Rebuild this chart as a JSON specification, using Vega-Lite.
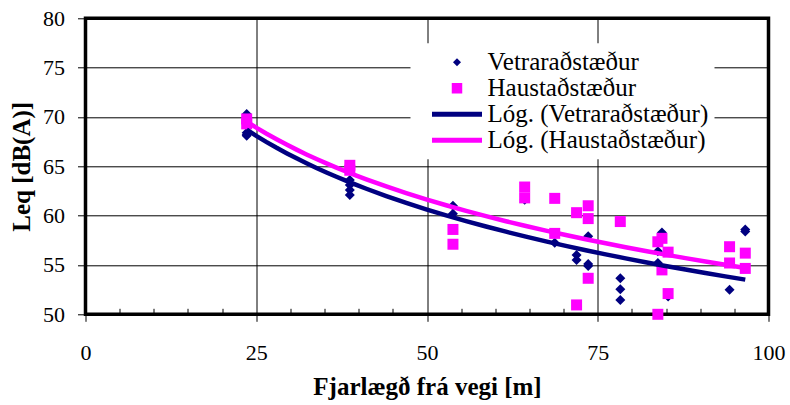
{
  "$schema": "https://vega.github.io/schema/vega-lite/v6.json",
  "autosize": {"type": "none"},
  "width": 683,
  "height": 296,
  "padding": {"left": 85.5, "top": 18.3, "right": 21.5, "bottom": 90.7},
  "background": "white",
  "config": {
    "view": {"stroke": "black", "strokeWidth": 3.5},
    "font": "Liberation Serif",
    "axis": {
      "labelFont": "Liberation Serif",
      "titleFont": "Liberation Serif",
      "labelColor": "black",
      "titleColor": "black",
      "labelFontSize": 22,
      "titleFontSize": 25,
      "titleFontWeight": "bold",
      "gridColor": "black",
      "gridWidth": 1,
      "gridOpacity": 1,
      "tickColor": "black",
      "tickWidth": 1,
      "domain": false,
      "labelOverlap": false,
      "labelFlush": false
    },
    "legend": {"labelFont": "Liberation Serif"}
  },
  "data": {
    "values": [
      {"d": 23.6, "leq": 70.3, "s": "Vetraraðstæður"},
      {"d": 23.6, "leq": 70.0, "s": "Vetraraðstæður"},
      {"d": 23.6, "leq": 69.4, "s": "Vetraraðstæður"},
      {"d": 23.6, "leq": 68.4, "s": "Vetraraðstæður"},
      {"d": 23.6, "leq": 68.2, "s": "Vetraraðstæður"},
      {"d": 23.6, "leq": 68.1, "s": "Vetraraðstæður"},
      {"d": 38.7, "leq": 63.6, "s": "Vetraraðstæður"},
      {"d": 38.7, "leq": 63.1, "s": "Vetraraðstæður"},
      {"d": 38.7, "leq": 62.6, "s": "Vetraraðstæður"},
      {"d": 38.7, "leq": 62.1, "s": "Vetraraðstæður"},
      {"d": 53.8, "leq": 61.0, "s": "Vetraraðstæður"},
      {"d": 53.8, "leq": 60.2, "s": "Vetraraðstæður"},
      {"d": 64.3, "leq": 61.6, "s": "Vetraraðstæður"},
      {"d": 68.7, "leq": 57.25, "s": "Vetraraðstæður"},
      {"d": 71.9, "leq": 56.0, "s": "Vetraraðstæður"},
      {"d": 71.9, "leq": 55.5, "s": "Vetraraðstæður"},
      {"d": 73.6, "leq": 57.9, "s": "Vetraraðstæður"},
      {"d": 73.6, "leq": 55.1, "s": "Vetraraðstæður"},
      {"d": 73.6, "leq": 54.9, "s": "Vetraraðstæður"},
      {"d": 73.6, "leq": 53.65, "s": "Vetraraðstæður"},
      {"d": 78.3, "leq": 53.65, "s": "Vetraraðstæður"},
      {"d": 78.3, "leq": 52.55, "s": "Vetraraðstæður"},
      {"d": 78.3, "leq": 51.45, "s": "Vetraraðstæður"},
      {"d": 83.8, "leq": 56.4, "s": "Vetraraðstæður"},
      {"d": 83.8, "leq": 55.2, "s": "Vetraraðstæður"},
      {"d": 84.4, "leq": 58.3, "s": "Vetraraðstæður"},
      {"d": 85.3, "leq": 51.8, "s": "Vetraraðstæður"},
      {"d": 94.3, "leq": 52.5, "s": "Vetraraðstæður"},
      {"d": 96.6, "leq": 58.6, "s": "Vetraraðstæður"},
      {"d": 96.6, "leq": 58.4, "s": "Vetraraðstæður"},
      {"d": 23.6, "leq": 69.8, "s": "Haustaðstæður"},
      {"d": 23.6, "leq": 69.3, "s": "Haustaðstæður"},
      {"d": 38.7, "leq": 65.1, "s": "Haustaðstæður"},
      {"d": 38.7, "leq": 64.6, "s": "Haustaðstæður"},
      {"d": 53.8, "leq": 58.6, "s": "Haustaðstæður"},
      {"d": 53.8, "leq": 57.1, "s": "Haustaðstæður"},
      {"d": 64.3, "leq": 62.9, "s": "Haustaðstæður"},
      {"d": 64.3, "leq": 61.8, "s": "Haustaðstæður"},
      {"d": 68.7, "leq": 61.75, "s": "Haustaðstæður"},
      {"d": 68.7, "leq": 58.2, "s": "Haustaðstæður"},
      {"d": 71.9, "leq": 60.3, "s": "Haustaðstæður"},
      {"d": 71.9, "leq": 50.95, "s": "Haustaðstæður"},
      {"d": 73.6, "leq": 61.0, "s": "Haustaðstæður"},
      {"d": 73.6, "leq": 59.7, "s": "Haustaðstæður"},
      {"d": 73.6, "leq": 53.65, "s": "Haustaðstæður"},
      {"d": 78.3, "leq": 59.4, "s": "Haustaðstæður"},
      {"d": 83.8, "leq": 57.35, "s": "Haustaðstæður"},
      {"d": 83.8, "leq": 50.0, "s": "Haustaðstæður"},
      {"d": 84.4, "leq": 57.7, "s": "Haustaðstæður"},
      {"d": 84.4, "leq": 54.5, "s": "Haustaðstæður"},
      {"d": 85.3, "leq": 56.3, "s": "Haustaðstæður"},
      {"d": 85.3, "leq": 52.1, "s": "Haustaðstæður"},
      {"d": 94.3, "leq": 56.85, "s": "Haustaðstæður"},
      {"d": 94.3, "leq": 55.2, "s": "Haustaðstæður"},
      {"d": 96.6, "leq": 56.2, "s": "Haustaðstæður"},
      {"d": 96.6, "leq": 54.65, "s": "Haustaðstæður"}
    ]
  },
  "encoding": {
    "x": {
      "field": "d",
      "type": "quantitative",
      "title": "Fjarlægð frá vegi [m]",
      "scale": {"domain": [0, 100], "nice": false, "zero": false},
      "axis": {
        "values": [0, 5, 10, 15, 20, 25, 30, 35, 40, 45, 50, 55, 60, 65, 70, 75, 80, 85, 90, 95, 100],
        "labelExpr": "datum.value % 25 === 0 ? datum.label : ''",
        "tickSize": {"condition": {"test": "datum.value % 25 === 0", "value": 7}, "value": -6},
        "gridOpacity": {"condition": {"test": "datum.value % 25 === 0", "value": 1}, "value": 0},
        "labelPadding": 21,
        "titleY": 80,
        "titleBaseline": "alphabetic"
      }
    },
    "y": {
      "field": "leq",
      "type": "quantitative",
      "title": "Leq [dB(A)]",
      "scale": {"domain": [50, 80], "nice": false, "zero": false},
      "axis": {
        "values": [50, 55, 60, 65, 70, 75, 80],
        "tickSize": 8,
        "labelPadding": 13,
        "titleX": -56,
        "titleY": 148,
        "titleAngle": -90,
        "titleAlign": "center",
        "titleBaseline": "alphabetic"
      }
    }
  },
  "layer": [
    {
      "transform": [{"filter": "datum.s === 'Vetraraðstæður'"}],
      "mark": {"type": "point", "shape": "diamond", "filled": true, "size": 100, "opacity": 1},
      "encoding": {
        "color": {
          "field": "s",
          "type": "nominal",
          "scale": {
            "domain": ["Vetraraðstæður", "Haustaðstæður", "Lóg. (Vetraraðstæður)", "Lóg. (Haustaðstæður)"],
            "range": ["#000080", "#ff00ff", "#000080", "#ff00ff"]
          },
          "legend": {
            "orient": "none",
            "legendX": 325,
            "legendY": 25,
            "title": null,
            "fillColor": "white",
            "padding": 6,
            "clipHeight": 26,
            "rowPadding": 0,
            "symbolOffset": 28,
            "labelOffset": 18,
            "labelFont": "Liberation Serif",
            "labelFontSize": 25,
            "labelColor": "black",
            "labelLimit": 400,
            "symbolOpacity": 1,
            "symbolType": {"expr": "datum.value === 'Vetraraðstæður' ? 'diamond' : datum.value === 'Haustaðstæður' ? 'square' : 'stroke'"},
            "symbolSize": {"expr": "datum.value === 'Vetraraðstæður' ? 64 : datum.value === 'Haustaðstæður' ? 110 : 2500"},
            "symbolStrokeWidth": {"expr": "datum.value === 'Vetraraðstæður' || datum.value === 'Haustaðstæður' ? 0 : 5"}
          }
        }
      }
    },
    {
      "transform": [{"filter": "datum.s === 'Haustaðstæður'"}],
      "mark": {"type": "point", "shape": "square", "filled": true, "size": 121, "opacity": 1},
      "encoding": {"color": {"field": "s", "type": "nominal"}}
    },
    {
      "transform": [
        {"filter": "datum.s === 'Vetraraðstæður'"},
        {"regression": "leq", "on": "d", "method": "log"}
      ],
      "mark": {"type": "line", "strokeWidth": 4.5},
      "encoding": {"color": {"datum": "Lóg. (Vetraraðstæður)", "type": "nominal"}}
    },
    {
      "transform": [
        {"filter": "datum.s === 'Haustaðstæður'"},
        {"regression": "leq", "on": "d", "method": "log"}
      ],
      "mark": {"type": "line", "strokeWidth": 4.5},
      "encoding": {"color": {"datum": "Lóg. (Haustaðstæður)", "type": "nominal"}}
    }
  ]
}
